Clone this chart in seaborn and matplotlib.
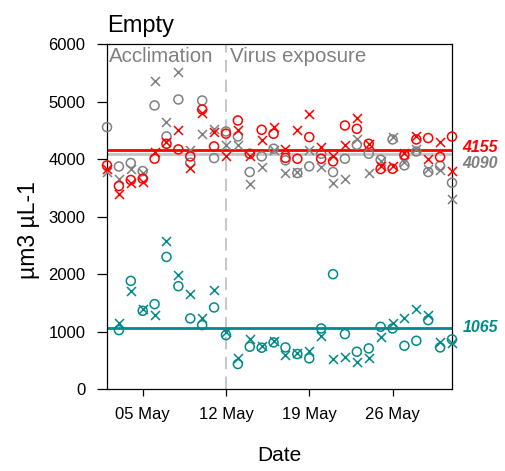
import numpy as np
import pandas as pd
import matplotlib
matplotlib.use("Agg")
import matplotlib.pyplot as plt
import matplotlib.dates as mdates
import seaborn as sns

sns.set_style("ticks")
plt.rcParams["font.family"] = ["Liberation Sans", "DejaVu Sans"]
plt.rcParams["text.color"] = "black"
plt.rcParams["axes.labelcolor"] = "black"
plt.rcParams["xtick.color"] = "black"
plt.rcParams["ytick.color"] = "black"

# ---- data ----
dates = pd.date_range("2021-05-02", "2021-05-31", freq="D")

gray_o = [4554, 3870, 3930, 3790, 4931, 4392, 5035, 3935, 5017, 4016, 4479, 4392, 3773, 4045, 4179,
          3976, 3755, 3872, 4092, 3773, 4005, 4248, 4092, 3987, 4340, 3889, 4130, 3773, 3880, 3587]
gray_x = [3773, 3657, 3830, 3750, 5365, 4641, 5510, 4149, 4427, 4525, 4236, 4236, 3571, 3860, 4150,
          3755, 3780, 4149, 3860, 3587, 3657, 4352, 3760, 3960, 4380, 3950, 4170, 3830, 3802, 3310]
red_o = [3889, 3530, 3635, 3657, 4005, 4265, 4167, 4045, 4861, 4219, 4440, 4670, 4092, 4508, 4439,
         4020, 4005, 4381, 4005, 3960, 4583, 4525, 4265, 3825, 3830, 4070, 4340, 4365, 4035, 4390]
red_x = [3830, 3400, 3575, 3600, 4120, 4300, 4497, 3849, 4803, 4467, 4045, 4508, 4060, 4323, 4554,
         4179, 4508, 4774, 4207, 4045, 4236, 4716, 4265, 3880, 3870, 4100, 4400, 4005, 4294, 3790]
teal_o = [np.nan, 1024, 1880, 1360, 1476, 2297, 1788, 1227, 1111, 1418, 938, 434, 735, 718, 810,
          723, 608, 533, 1053, 1997, 955, 648, 706, 1082, 1053, 752, 839, 1198, 723, 863]
teal_x = [np.nan, 1140, 1707, 1400, 1285, 2575, 1979, 1649, 1227, 1719, 1000, 533, 863, 740, 830,
          590, 620, 665, 920, 515, 561, 474, 533, 897, 1140, 1227, 1383, 1285, 822, 793]

ref_values = {"red": 4155, "gray": 4090, "teal": 1065}
phase_labels = ["Acclimation", "Virus exposure"]
exposure_start = pd.Timestamp("2021-05-12")
tick_days = [5, 12, 19, 26]

colors = {"red": "#FF0000", "gray": "#808080", "teal": "#008B8B"}
line_colors = {"red": "#FF0000", "gray": "#C4C4C4", "teal": "#008B8B"}

series = [
    ("gray", gray_o, gray_x),
    ("red", red_o, red_x),
    ("teal", teal_o, teal_x),
]

# ---- figure ----
fig = plt.figure(figsize=(5.05, 4.71), dpi=100)
ax = fig.add_axes([107 / 505, 1 - 389 / 471, 345 / 505, 345 / 471])

# reference lines
ax.axhline(ref_values["gray"], color=line_colors["gray"], lw=2.0, zorder=1)
ax.axhline(ref_values["red"], color=line_colors["red"], lw=2.0, zorder=1.5)
ax.axhline(ref_values["teal"], color=line_colors["teal"], lw=2.0, zorder=1.5)
ax.axvline(exposure_start, color="#C8C8C8", lw=1.5, dashes=(6, 3.5), zorder=0.5)

for name, vo, vx in series:
    col = colors[name]
    df_o = pd.DataFrame({"Date": dates, "value": vo}).dropna()
    df_x = pd.DataFrame({"Date": dates, "value": vx}).dropna()
    sns.scatterplot(data=df_o, x="Date", y="value", marker="o", s=42,
                    facecolors="none", edgecolor=col, linewidth=1.1,
                    ax=ax, clip_on=False, zorder=3, legend=False)
    sns.scatterplot(data=df_x, x="Date", y="value", marker="x", s=42,
                    color=col, linewidth=1.1,
                    ax=ax, clip_on=False, zorder=3, legend=False)

ax.set_xlim(dates[0], dates[-1])
ax.set_ylim(0, 6000)
ax.set_yticks([0, 1000, 2000, 3000, 4000, 5000, 6000])
ax.xaxis.set_major_locator(mdates.DayLocator(bymonthday=tick_days))
ax.xaxis.set_major_formatter(mdates.DateFormatter("%d %b"))

for s in ax.spines.values():
    s.set_visible(True)
    s.set_color("black")
    s.set_linewidth(0.9)
ax.tick_params(axis="y", direction="out", length=7, width=0.9, pad=8.5,
               labelsize=12, color="black")
ax.tick_params(axis="x", direction="out", length=5, width=0.9, pad=8,
               labelsize=12, color="black")

ax.set_xlabel("Date", fontsize=15, labelpad=17)
ax.set_ylabel("µm3 µL-1", fontsize=16.5)
ax.yaxis.set_label_coords(-0.194, 0.46)
ax.set_title("Empty", loc="left", fontsize=17, pad=9)

# phase labels
ax.annotate(phase_labels[0], xy=(0, 1), xycoords="axes fraction",
            xytext=(1.5, -2), textcoords="offset points", ha="left", va="top",
            fontsize=14.8, color="#808080")
ax.annotate(phase_labels[1], xy=(exposure_start, 1), xycoords=("data", "axes fraction"),
            xytext=(3, -2), textcoords="offset points", ha="left", va="top",
            fontsize=14.8, color="#808080")

# reference value labels
offsets = {"red": 2, "gray": -7, "teal": 0}
for name in ["red", "gray", "teal"]:
    ax.annotate(str(ref_values[name]), xy=(1, ref_values[name]),
                xycoords=("axes fraction", "data"),
                xytext=(7.5, offsets[name]), textcoords="offset points",
                ha="left", va="center", fontsize=11.5, fontweight="bold",
                fontstyle="italic", color=colors[name], annotation_clip=False)

fig.savefig("out.png", dpi=100)
